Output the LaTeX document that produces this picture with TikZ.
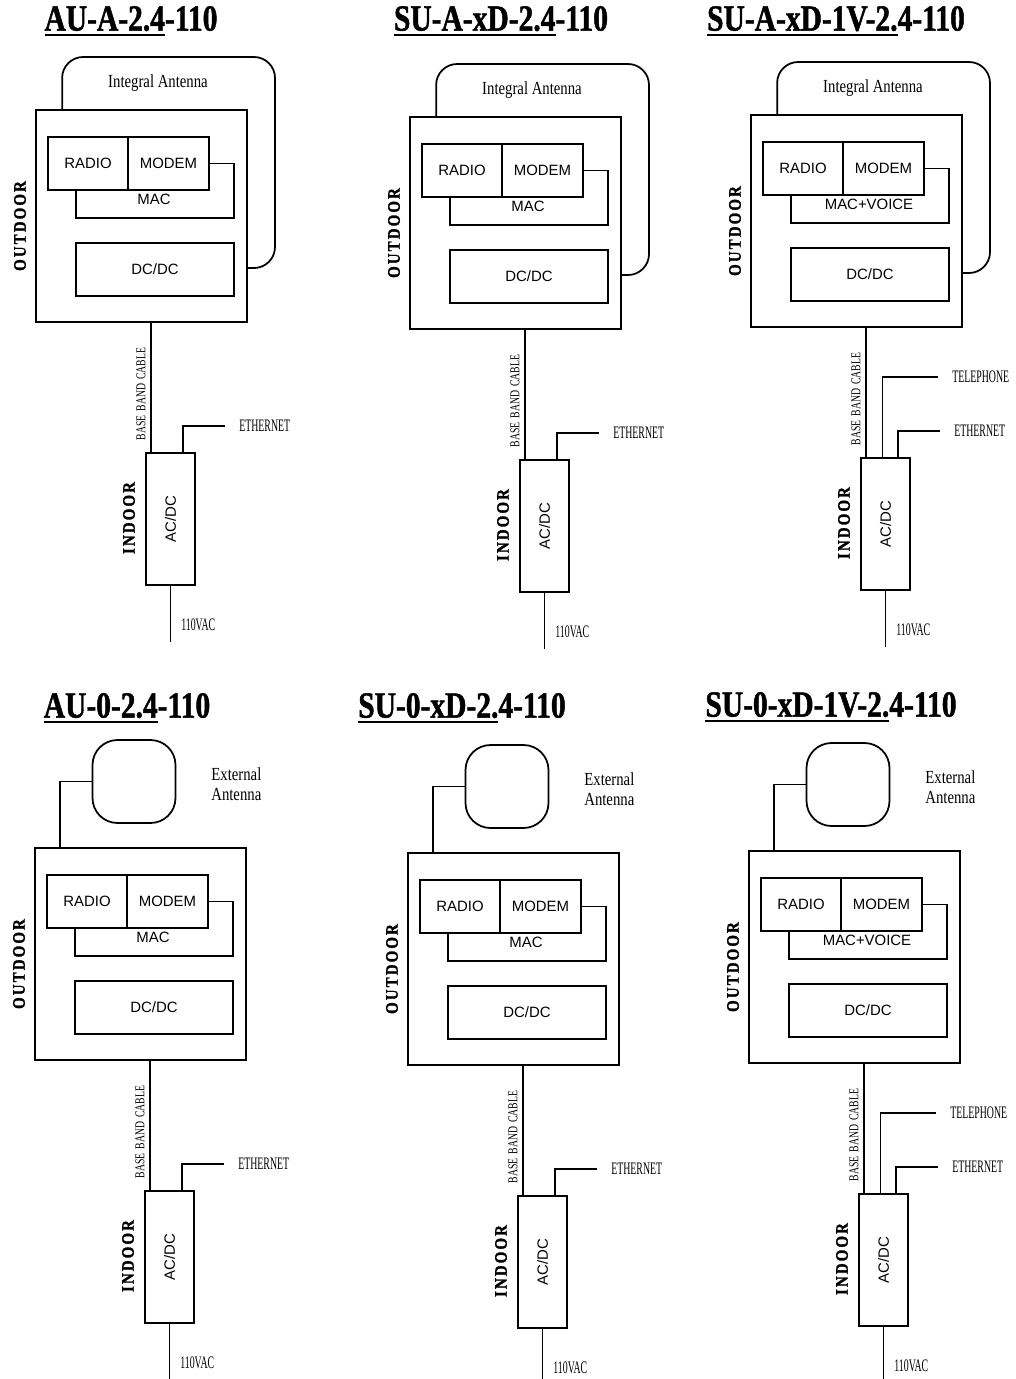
\documentclass[tikz,border=0pt]{standalone}
\usepackage{fontspec}
\usepackage{graphicx}
\setmainfont{Liberation Serif}
\newfontfamily\titlefont[FakeStretch=0.8,BoldFeatures={FakeBold=1.2}]{Liberation Serif}
\newfontfamily\capfont[FakeStretch=0.56]{Liberation Serif}
\newfontfamily\cablefont[FakeStretch=0.72,WordSpace=1.6]{Liberation Serif}
\newfontfamily\mixfont[FakeStretch=0.8]{Liberation Serif}
\newfontfamily\doorfont[FakeStretch=0.85,LetterSpace=12,BoldFeatures={FakeBold=1.5}]{Liberation Serif}
\newfontfamily\boxfont{Liberation Sans}
\usepackage{tikz}
\usetikzlibrary{calc}
\tikzset{
  unit box/.style={
    draw, line width=1pt, inner sep=0pt,
    font=\boxfont\fontsize{8.5}{10}\selectfont
  },
  unit text/.style={inner sep=0pt, font=\boxfont\fontsize{8.5}{10}\selectfont},
  wire/.style={line width=1pt},
  side label/.style={rotate=90, inner sep=0pt, font=\doorfont\bfseries\fontsize{10}{12}\selectfont},
  cable label/.style={rotate=90, inner sep=0pt, font=\cablefont\fontsize{7.7}{9}\selectfont},
  port label/.style={anchor=west, inner sep=0pt, font=\capfont\fontsize{10}{12}\selectfont},
  antenna label/.style={inner sep=0pt, align=left, font=\mixfont\fontsize{10.5}{11.5}\selectfont},
  model title/.style={inner sep=0pt, font=\titlefont\bfseries\fontsize{21}{25}\selectfont}
}
% underlined part of a model name
\newsavebox{\titlebox}
\newcommand{\undertitle}[1]{\sbox{\titlebox}{#1}\rlap{\rule[-3pt]{\wd\titlebox}{1.1pt}}\usebox{\titlebox}}
% outdoor unit, #1 = text of the MAC block
\newcommand{\outdoorunit}[1]{%
  \node[unit box, minimum width=4.22cm, minimum height=4.24cm] (odu) at (105.5,106) {};
  \node[unit box, minimum width=1.6cm, minimum height=1.06cm] (radio) at (52,53.5) {RADIO};
  \node[unit box, minimum width=1.62cm, minimum height=1.06cm] (modem) at (132.5,53.5) {MODEM};
  \draw[wire] (modem.east) -| (198,108) -| (radio.south -| 40,0);
  \node[unit text] (mac) at (118,89) {#1};
  \node[unit box, minimum width=3.16cm, minimum height=1.06cm] (dcdc) at (119,159.5) {DC/DC};
  \node[side label] (outlbl) at (-16,116) {OUTDOOR};
}
% indoor unit with cable, ethernet and mains
\newcommand{\indoorunit}{%
  \node[unit box, minimum width=0.98cm, minimum height=2.64cm] (idu) at (134.5,409) {};
  \node[unit text, rotate=90] (acdc) at (idu.center) {AC/DC};
  \node[side label] (inlbl) at (93,408) {INDOOR};
  \coordinate (cab) at (115,0);
  \draw[wire] (odu.south -| cab) -- (idu.north -| cab);
  \node[cable label] (cablbl) at (105,284) {BASE BAND CABLE};
  \coordinate (eth) at (189,316);
  \draw[wire] ([xshift=0.25cm]idu.north) |- (eth);
  \node[port label] (ethlbl) at ([xshift=0.28cm]eth) {ETHERNET};
  \coordinate (mains) at (134.5,532);
  \draw[wire] (idu.south) -- (idu.south |- mains);
  \node[port label] (aclbl) at (145,515) {110VAC};
}
\newcommand{\phoneline}{%
  \coordinate (tel) at (187,262);
  \draw[wire] ([xshift=-0.06cm]idu.north) |- (tel);
  \node[port label] (tellbl) at ([xshift=0.28cm]tel) {TELEPHONE};
}
\newcommand{\integralantenna}{%
  \draw[wire, rounded corners=0.42cm] ([xshift=0.54cm]odu.north west) |- (239,-53) |- (odu.east |- 0,158);
  \node[antenna label] (antlbl) at (122,-27) {Integral Antenna};
}
\newcommand{\externalantenna}{%
  \node[draw, line width=1pt, rounded corners=0.5cm, minimum size=1.66cm] (ext) at (99,-66.5) {};
  \draw[wire] (ext.west) -| ([xshift=0.52cm]odu.north west);
  \node[antenna label, anchor=west] (extlbl) at (176,-64) {External\\Antenna};
}

\begin{document}
\begin{tikzpicture}[x=0.02cm, y=-0.02cm]
  \useasboundingbox (0,0) rectangle (1016,1379);

  % Titles
  \node[model title] (t1) at (131,21) {\undertitle{AU-A-2.4}-110};
  \node[model title] (t2) at (501,21) {\undertitle{SU-A-xD-2.4}-110};
  \node[model title] (t3) at (836,21) {\undertitle{SU-A-xD-1V-2.}4-110};
  \node[model title] (t4) at (127,708) {\undertitle{AU-0-2.4}-110};
  \node[model title] (t5) at (462,708) {\undertitle{SU-0-xD-2.}4-110};
  \node[model title] (t6) at (831,707) {\undertitle{SU-0-xD-1V-2.}4-110};

  % Integral antenna units
  \begin{scope}[shift={(36,110)}, name prefix=p1-]
    \outdoorunit{MAC}
    \integralantenna
    \indoorunit
  \end{scope}
  \begin{scope}[shift={(410,117)}, name prefix=p2-]
    \outdoorunit{MAC}
    \integralantenna
    \indoorunit
  \end{scope}
  \begin{scope}[shift={(751,115)}, name prefix=p3-]
    \outdoorunit{MAC+VOICE}
    \integralantenna
    \indoorunit
    \phoneline
  \end{scope}

  % External antenna units
  \begin{scope}[shift={(35,848)}, name prefix=p4-]
    \outdoorunit{MAC}
    \externalantenna
    \indoorunit
  \end{scope}
  \begin{scope}[shift={(408,853)}, name prefix=p5-]
    \outdoorunit{MAC}
    \externalantenna
    \indoorunit
  \end{scope}
  \begin{scope}[shift={(749,851)}, name prefix=p6-]
    \outdoorunit{MAC+VOICE}
    \externalantenna
    \indoorunit
    \phoneline
  \end{scope}
\end{tikzpicture}
\end{document}
